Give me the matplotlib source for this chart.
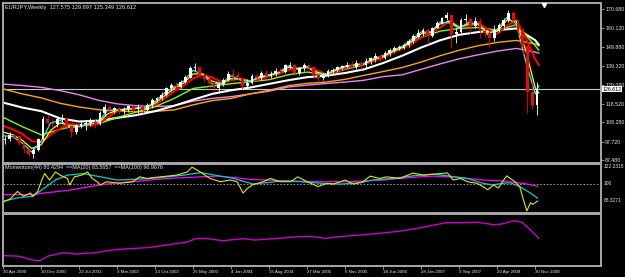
import matplotlib
matplotlib.use("Agg")
import matplotlib.pyplot as plt
from matplotlib import font_manager

# ---------------- data ----------------
TITLE = "EURJPY,Weekly  127.575 129.697 125.349 126.612"
MOM_LABEL = "Momentum(44) 80.4294  ==MA(20) 83.5657  ==MA(100) 96.9676"

# 4-week bars (weeks counted from 30 Apr 2000)
FIRST_OPEN = 98.5
BAR_CLOSE = [99, 101.5, 100.5, 97, 93.5, 91, 93, 99, 110, 108,
             107.5, 110, 110.5, 106, 103, 106.5, 107.5, 108, 108.5, 107.5,
             113.5, 116.5, 115, 116, 114.5, 115.5, 117, 115.5, 116.5, 115,
             118, 120.5, 121.5, 123.5, 127, 129, 128, 130.5, 133, 138,
             138.5, 134, 132, 130, 127.5, 129.5, 131.5, 135, 134, 132.5,
             128.5, 130, 133.5, 132.5, 135.5, 134, 135, 136.5, 136, 139.5,
             140, 135.5, 138, 139.5, 138.5, 134, 133, 134.5, 136.5, 137,
             138.5, 139, 140, 139, 141, 140, 142, 143.5, 144.5, 144,
             146.5, 148, 149, 149.5, 151, 153, 155.5, 157.5, 159, 156,
             160, 163, 165.5, 167, 157, 158, 164.5, 165, 161.5, 164,
             158.5, 157.5, 155, 159, 161.5, 164.5, 168.5, 164, 158, 150,
             125, 118, 126.6]
BAR_HIGH = [101, 103, 102.5, 100.5, 97.5, 94.5, 94.5, 100, 112, 112.5,
            110, 111.5, 113, 111, 106.5, 107.5, 109.5, 109.5, 110.5, 110,
            114.5, 118.5, 118, 117, 117.5, 117, 118, 118.5, 118.5, 118,
            119, 121.5, 122.5, 125, 128, 130, 130.5, 131.5, 134.5, 139.5,
            141, 139, 135.5, 133, 131, 130.5, 132.5, 136.5, 137.5, 136,
            133, 132, 135, 135.5, 136.5, 137, 136.5, 138, 138.5, 140.5,
            141.5, 140.5, 139, 141, 140.5, 139.5, 135.5, 135.5, 137.5, 138,
            139.5, 140, 141.5, 142, 142.5, 142, 143.5, 144.5, 146.5, 146,
            147.5, 149, 150.5, 151, 152, 154, 157, 159.5, 160.5, 159.5,
            161, 164, 166.5, 168.9, 167.5, 160.5, 166, 168, 166, 166.5,
            165.5, 160.5, 159, 162, 163, 166, 169.9, 169.5, 165, 160,
            151, 131, 130.5]
BAR_LOW = [96.5, 98, 99, 96, 91.5, 90, 88.8, 92.5, 98.5, 106.5,
           105.5, 106, 108.5, 104.5, 100.5, 102, 105, 104, 106.5, 105.5,
           107, 112, 113.5, 113.5, 113, 113, 114, 114, 113.5, 113.5,
           114.5, 116.5, 119.5, 120.5, 123, 125.5, 126.5, 127.5, 130, 132.5,
           136.5, 133, 130.5, 128.5, 125.5, 124.8, 128.5, 131, 132, 131.5,
           126.5, 127, 129.5, 131, 131.5, 133, 133, 134, 135, 135.5,
           138.5, 134.5, 134.5, 136.5, 136.5, 133, 130.5, 131.5, 133.5, 135,
           136, 137, 138, 137.5, 137.5, 137.5, 138.5, 140.5, 141.5, 142,
           143, 145, 147, 148, 148.5, 150, 152, 154.5, 156, 151.5,
           155.5, 160, 162.5, 164.5, 149.5, 152, 157.5, 163.5, 157.5, 160.5,
           154.5, 155.5, 150, 153, 158, 159.5, 163.5, 162.5, 156, 145,
           113.6, 115.5, 112.5]
BAR_WEEKS = 4
LAST_PRICE = 126.612

# moving averages on the price chart
SLOW_WEEKS = [0, 16, 32, 48, 64, 80, 96, 112, 128, 144, 160, 176, 192, 208, 224,
              240, 256, 272, 288, 304, 320, 336, 352, 368, 384, 400, 416, 432, 448, 451]
MA_VIOLET = [129.4, 128.6, 127.6, 125.8, 123.5, 120.5, 118.5, 117.5, 117.0, 117.5,
             120.0, 121.5, 122.5, 124.0, 125.5, 127.8, 128.8, 129.7, 130.5, 131.5,
             133.5, 134.5, 137.5, 140.5, 143.3, 145.5, 147.5, 149.0, 147.0, 146.4]
MA_ORANGE = [126.7, 124.0, 121.8, 118.8, 116.8, 115.3, 114.6, 114.2, 114.4, 115.2,
             118.0, 120.3, 121.5, 124.0, 126.0, 128.5, 129.8, 130.5, 132.0, 134.2,
             136.3, 138.5, 141.5, 145.0, 148.0, 150.5, 152.3, 153.4, 151.5, 150.5]
MA_WHITE = [119.2, 116.5, 114.5, 110.5, 108.8, 109.3, 110.8, 112.3, 114.5, 117.5,
            120.8, 124.0, 126.0, 127.5, 129.5, 131.5, 133.2, 134.0, 135.5, 137.5,
            141.0, 145.0, 149.5, 153.5, 156.5, 158.0, 159.0, 160.0, 153.5, 151.0]
MA_GREEN = [111.1, 106.0, 101.5, 104.5, 107.0, 107.5, 111.0, 114.0, 117.0, 121.5,
            127.0, 128.3, 129.6, 130.7, 131.8, 134.5, 136.0, 134.5, 137.5, 140.0,
            145.0, 150.0, 155.0, 158.5, 160.0, 160.5, 159.0, 162.0, 150.5, 148.0]

FAST_WEEKS = list(range(0, 449, 8)) + [451]
MA_RED = [106.5, 104.5, 102, 98, 97.5, 101.5, 105, 107.5, 107, 106.5,
          107.5, 111, 114.5, 115.5, 116, 116.3, 118, 121.5, 125.5, 128.5,
          132.5, 134.5, 133, 130.5, 131.5, 132.5, 131, 132, 133.8, 135,
          137, 138, 138.3, 137, 134.8, 136, 138, 139.5, 140.3, 142,
          144, 146.5, 149, 151.5, 155, 157.5, 160.5, 164, 161, 161.5,
          163, 159.5, 157, 161.5, 164.5, 155, 143, 140]
MA_YELLOW = [103, 101.5, 98.5, 94, 96, 104, 108, 106.5, 106, 107.3,
             108.2, 113, 115, 115.5, 116, 116.2, 119, 123, 127, 130,
             135, 135, 131, 129.5, 132.5, 132, 131, 133, 134.3, 135.5,
             138.5, 138, 138.8, 136, 134.5, 137, 139, 139.8, 140.5, 143,
             144.5, 147.3, 149.5, 153, 157, 158, 162.5, 164, 160.5, 162.5,
             162.5, 157.5, 158.5, 164.5, 164, 148, 127.5, 124.5]
MA_CYAN = [101, 100.5, 97, 92, 98, 108, 109.5, 105.5, 106, 107.5,
           108.5, 115, 115.3, 115.8, 116.2, 116.3, 120, 124.5, 128, 131,
           137, 134.5, 129.5, 129.8, 134, 131.5, 131, 133.5, 134.5, 136,
           139.3, 137.5, 139, 135, 135, 137.5, 139.3, 140, 140.8, 143.5,
           145, 148, 150, 154, 158, 158, 163.5, 163, 160, 163.5,
           162, 156.5, 159.5, 166, 162.5, 142, 124, 128.5]

PRICE_TICKS = [170.680, 160.120, 149.880, 139.320, 129.080, 118.520, 108.280, 97.720, 87.480]

# momentum panel
MOM_WEEKS = [0, 6, 12, 17, 23, 25, 29, 33, 35, 39, 44, 48, 54, 56, 60, 66, 71, 75, 79, 82,
             87, 98, 109, 115, 121, 132, 146, 155, 159, 166, 174, 183, 191, 197, 202, 206,
             210, 219, 225, 233, 242, 248, 256, 265, 273, 278, 288, 295, 303, 309, 317, 323,
             334, 345, 354, 362, 374, 379, 385, 391, 399, 404, 408, 413, 417, 421, 424, 427,
             431, 435, 438, 441, 444, 446, 450]
MOMENTUM = [79.1, 82.8, 91.2, 85.7, 89.4, 85.7, 91.2, 105.9, 111.4, 104.1, 113.2, 109.6,
            105.9, 98.6, 107.7, 109.6, 113.2, 105.9, 102.2, 98.6, 102.2, 100.4, 102.2,
            107.7, 105.9, 107.7, 109.6, 113.2, 118.7, 113.2, 105.9, 102.2, 104.1, 102.2,
            89.4, 95.0, 98.6, 102.2, 105.9, 102.2, 102.2, 107.7, 102.2, 96.7, 100.4, 99.5,
            104.1, 99.5, 102.2, 108.5, 105.9, 107.7, 105.9, 112.0, 109.6, 110.7, 112.1,
            104.1, 105.9, 102.2, 100.4, 96.7, 93.1, 98.6, 95.0, 103.3, 108.8, 105.9, 102.2,
            96.7, 82.1, 69.2, 78.4, 76.6, 80.4]
MA20_WEEKS = [0, 12, 25, 44, 54, 67, 82, 96, 109, 124, 138, 152, 166, 194, 210, 222,
              236, 250, 269, 284, 301, 311, 328, 345, 351, 362, 376, 391, 404, 412, 421,
              427, 435, 444, 450]
MOM_MA20 = [80.2, 83.9, 85.7, 104.1, 109.6, 111.4, 107.7, 104.1, 104.8, 105.9, 107.7,
            109.6, 112.5, 105.9, 99.7, 101.1, 103.3, 102.2, 100.4, 99.5, 101.1, 104.1,
            105.9, 108.8, 109.6, 110.7, 108.5, 105.9, 100.4, 98.6, 100.4, 101.1, 96.7,
            89.4, 83.6]
MA100_WEEKS = [0, 25, 34, 54, 82, 96, 109, 138, 166, 180, 194, 208, 236, 264, 292,
               306, 320, 334, 351, 362, 376, 391, 404, 418, 433, 441, 450]
MOM_MA100 = [87.6, 87.6, 89.4, 92.3, 98.6, 101.1, 102.2, 105.9, 107.7, 108.5, 107.1,
             104.8, 103.3, 102.2, 102.2, 103.3, 104.1, 105.9, 107.7, 108.5, 107.7, 105.9,
             104.1, 103.3, 101.1, 99.7, 97.0]
MOM_LEVELS = ["122.2315", "100", "68.3271"]

# bottom panel (unlabelled magenta line)
LOW_WEEKS = [0, 11, 18, 24, 31, 38, 51, 61, 78, 88, 98, 121, 138, 155, 162, 170, 185,
             202, 212, 232, 249, 259, 271, 283, 300, 317, 333, 349, 359, 373, 386, 400,
             413, 420, 430, 437, 444, 451]
LOW_LINE = [9.3, 9.0, 7.3, 5.0, 4.3, 9.0, 12.3, 11.0, 12.3, 14.3, 15.7, 17.3, 20.0, 23.0,
            26.3, 26.7, 24.3, 26.3, 25.0, 26.7, 28.3, 28.7, 26.7, 28.3, 30.0, 31.7, 33.7,
            36.7, 39.0, 42.3, 42.3, 42.7, 40.3, 41.0, 44.3, 42.7, 35.0, 26.7]

TICK_WEEKS = list(range(0, 449, 32))
TICK_LABELS = ["30 Apr 2000", "10 Dec 2000", "22 Jul 2001", "3 Mar 2002", "13 Oct 2002",
               "25 May 2003", "4 Jan 2004", "15 Aug 2004", "27 Mar 2005", "6 Nov 2005",
               "18 Jun 2006", "28 Jan 2007", "9 Sep 2007", "20 Apr 2008", "30 Nov 2008"]

# ---------------- style ----------------
names = {f.name for f in font_manager.fontManager.ttflist}
FONT = "Liberation Sans Narrow" if "Liberation Sans Narrow" in names else "Liberation Sans"
SCALE = 1.0 if FONT == "Liberation Sans Narrow" else 0.82
plt.rcParams["font.family"] = [FONT, "DejaVu Sans"]
TXT = "#E8E8E8"
BORDER = "#A8A8A8"

W, H = 625, 277
fig = plt.figure(figsize=(W / 100, H / 100), dpi=100, facecolor="black")


def box(x0, y0, x1, y1):
    return [x0 / W, 1 - y1 / H, (x1 - x0) / W, (y1 - y0) / H]


ax1 = fig.add_axes(box(2.5, 2.7, 601, 162.5))
ax2 = fig.add_axes(box(2.5, 163.8, 601, 212.5))
ax3 = fig.add_axes(box(2.5, 214.0, 601, 265.5))
XL = (-0.6, 503.4)
for ax in (ax1, ax2, ax3):
    ax.set_facecolor("black")
    ax.set_xlim(*XL)
    for s in ax.spines.values():
        s.set_color(BORDER)
        s.set_linewidth(1.4)
    ax.tick_params(colors=BORDER)

# ---- main price panel ----
ax1.set_ylim(86.27, 174.14)
ax1.axhline(LAST_PRICE, color="#C8C8C8", lw=0.8, zorder=1)
ax1.plot(SLOW_WEEKS, MA_VIOLET, color="#EE82EE", lw=1.0, zorder=2)
ax1.plot(SLOW_WEEKS, MA_ORANGE, color="#FFA500", lw=1.0, zorder=2)
ax1.plot(SLOW_WEEKS, MA_WHITE, color="white", lw=1.5, zorder=2)
ax1.plot(SLOW_WEEKS, MA_GREEN, color="#7CFC00", lw=1.0, zorder=2)
ax1.plot(FAST_WEEKS, MA_RED, color="#FF0000", lw=1.5, zorder=2)
ax1.plot(FAST_WEEKS, MA_YELLOW, color="#FFFF00", lw=0.9, zorder=2)
ax1.plot(FAST_WEEKS, MA_CYAN, color="#00FFFF", lw=0.9, zorder=2)

opens = [FIRST_OPEN] + BAR_CLOSE[:-1]
xs = [BAR_WEEKS * i + 1.5 for i in range(len(BAR_CLOSE))]
cols = ["white" if c >= o else "#FF0000" for o, c in zip(opens, BAR_CLOSE)]
ax1.vlines(xs, BAR_LOW, BAR_HIGH, colors=cols, lw=0.6, zorder=3)
ax1.bar(xs, [abs(c - o) + 0.15 for o, c in zip(opens, BAR_CLOSE)],
        bottom=[min(o, c) for o, c in zip(opens, BAR_CLOSE)],
        width=2.2, color=cols, linewidth=0, zorder=3)

ax1.yaxis.tick_right()
ax1.set_yticks(PRICE_TICKS, [f"{v:.3f}" for v in PRICE_TICKS])
ax1.tick_params(axis="y", length=2, width=0.6, pad=1, labelsize=4.6 * SCALE,
                labelcolor=TXT, colors=BORDER)
ax1.set_xticks([])
ax1.text(1.003, LAST_PRICE, f"{LAST_PRICE:.3f}", transform=ax1.get_yaxis_transform(),
         ha="left", va="center", fontsize=4.6 * SCALE, color="black", zorder=10,
         bbox=dict(facecolor="white", edgecolor="none", pad=0.4), clip_on=False)
ax1.plot([0.905], [0.985], marker="v", color="white", markersize=3,
         transform=ax1.transAxes, clip_on=False, zorder=10)
fig.text(5 / W, 1 - 7 / H, TITLE, ha="left", va="center", fontsize=4.9 * SCALE, color=TXT)

# ---- momentum panel ----
ax2.set_ylim(67.4, 122.46)
ax2.axhline(100, color="#B0B0B0", lw=0.6, ls=(0, (2, 2)), zorder=1)
ax2.plot(MA100_WEEKS, MOM_MA100, color="#FF00FF", lw=0.9, zorder=2)
ax2.plot(MA20_WEEKS, MOM_MA20, color="#00CED1", lw=0.9, zorder=3)
ax2.plot(MOM_WEEKS, MOMENTUM, color="#E6E600", lw=0.8, zorder=4)
ax2.set_xticks([])
ax2.set_yticks([])
for lab, ypx in zip(MOM_LEVELS, [166.7, 183.9, 200.3]):
    fig.text(603.5 / W, 1 - ypx / H, lab, ha="left", va="center",
             fontsize=4.3 * SCALE, color=TXT)
fig.text(5 / W, 1 - 168 / H, MOM_LABEL, ha="left", va="center",
         fontsize=4.7 * SCALE, color=TXT)

# ---- bottom panel ----
ax3.set_ylim(-0.5, 51)
ax3.plot(LOW_WEEKS, LOW_LINE, color="#CC00CC", lw=1.0)
ax3.set_yticks([])
ax3.set_xticks(TICK_WEEKS, TICK_LABELS)
ax3.tick_params(axis="x", length=2.5, width=0.6, pad=0.8, labelsize=3.8 * SCALE,
                labelcolor=TXT, colors=BORDER)
for t in ax3.get_xticklabels():
    t.set_horizontalalignment("left")

fig.savefig("out.png", dpi=100, facecolor="black")
